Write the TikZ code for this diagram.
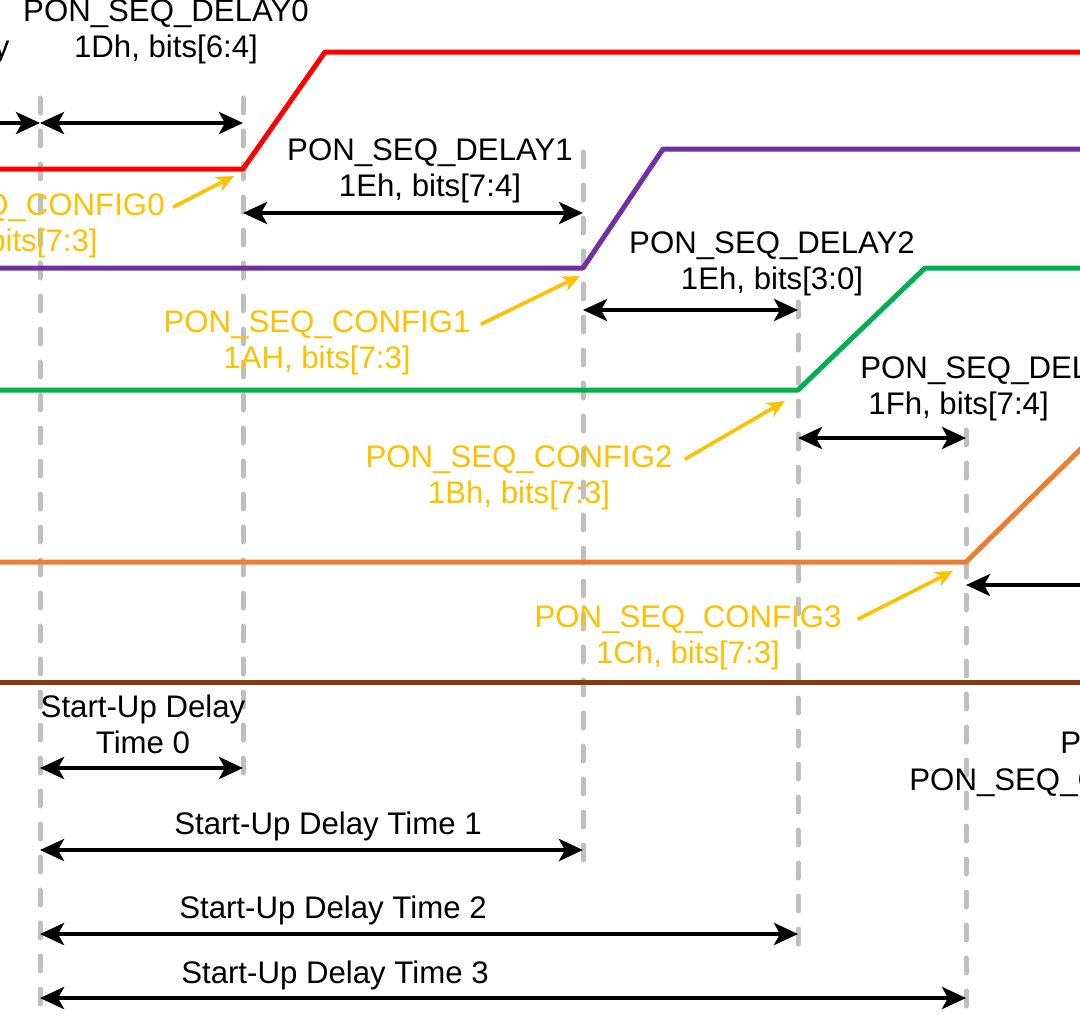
\documentclass[tikz,border=0pt]{standalone}
\usepackage{fontspec}
\setmainfont{Liberation Sans}
\usetikzlibrary{arrows.meta, positioning, calc}
\definecolor{seqred}{RGB}{255, 0, 0}
\definecolor{seqpurple}{RGB}{112, 48, 160}
\definecolor{seqgreen}{RGB}{0, 176, 80}
\definecolor{seqorange}{RGB}{237, 125, 49}
\definecolor{seqbrown}{RGB}{132, 60, 12}
\definecolor{cfgyellow}{RGB}{255, 192, 0}
\definecolor{guidegray}{RGB}{191, 191, 191}

\begin{document}
\begin{tikzpicture}[
  x=0.5pt, y=-0.5pt,
  lbl/.style={inner sep=0pt, font=\fontsize{15.6}{18}\selectfont},
  cfg/.style={lbl, text=cfgyellow},
  rail/.style={line width=2.5pt, line join=round},
  guide/.style={draw=guidegray, line width=2.5pt, line cap=round, dash pattern=on 7.5pt off 9pt},
  span/.style={<->, >={Stealth[length=12pt, width=11pt, inset=3pt]}, line width=2.2pt},
  callout/.style={->, >={Stealth[length=9pt, width=8pt]}, draw=cfgyellow, line width=1.8pt},
]
  \useasboundingbox (0,0) rectangle (1080,1024);
  \clip (0,0) rectangle (1080,1024);

  % time marks
  \coordinate (m0) at (40,0);
  \coordinate (m1) at (243,0);
  \coordinate (m2) at (583,0);
  \coordinate (m3) at (798,0);
  \coordinate (m4) at (966,0);

  \draw[guide] (m0 |- 0,98) -- (m0 |- 0,1012);
  \draw[guide] (m1 |- 0,98) -- (m1 |- 0,780);
  \draw[guide] (m2 |- 0,152) -- (m2 |- 0,868);
  \draw[guide] (m3 |- 0,302) -- (m3 |- 0,952);
  \draw[guide] (m4 |- 0,430) -- (m4 |- 0,1012);

  % rails
  \draw[rail, seqred] (-20,169) -- (m1 |- 0,169) -- (325,52) -- (1100,52);
  \draw[rail, seqpurple] (-20,268) -- (m2 |- 0,268) -- (663,149) -- (1100,149);
  \draw[rail, seqgreen] (-20,390) -- (m3 |- 0,390) -- (925,268) -- (1100,268);
  \draw[rail, seqorange] (-20,562) -- (m4 |- 0,562) -- (1100,430);
  \draw[rail, seqbrown] (-20,682) -- (1100,682);

  % delays between rails
  \draw[span] (-120,123) -- (m0 |- 0,123);
  \draw[span] (m0 |- 0,123) -- (m1 |- 0,123);
  \draw[span] (m1 |- 0,213) -- (m2 |- 0,213);
  \draw[span] (m2 |- 0,310) -- (m3 |- 0,310);
  \draw[span] (m3 |- 0,438) -- (m4 |- 0,438);
  \draw[span] (m4 |- 0,585) -- (1200,585);

  \node[lbl, anchor=base east] (dlyprev) at (10,57) {Delay};
  \node[lbl, anchor=base] (dly0) at (166,21) {PON\_SEQ\_DELAY0};
  \node[lbl, anchor=base] (dly0b) at ([yshift=-18pt]dly0.base) {1Dh, bits[6:4]};
  \node[lbl, anchor=base] (dly1) at (430,160) {PON\_SEQ\_DELAY1};
  \node[lbl, anchor=base] (dly1b) at ([yshift=-18pt]dly1.base) {1Eh, bits[7:4]};
  \node[lbl, anchor=base] (dly2) at (772,253) {PON\_SEQ\_DELAY2};
  \node[lbl, anchor=base] (dly2b) at ([yshift=-18pt]dly2.base) {1Eh, bits[3:0]};
  \node[lbl, anchor=base west] (dly3) at (860,378) {PON\_SEQ\_DELAY3};
  \node[lbl, anchor=base west] (dly3b) at (868,414) {1Fh, bits[7:4]};

  % configs
  \node[cfg, anchor=base east] (cfg0) at (165,215) {PON\_SEQ\_CONFIG0};
  \node[cfg, anchor=base east] (cfg0b) at (98,251) {19h, bits[7:3]};
  \node[cfg, anchor=base] (cfg1) at (317,332) {PON\_SEQ\_CONFIG1};
  \node[cfg, anchor=base] (cfg1b) at ([yshift=-18pt]cfg1.base) {1AH, bits[7:3]};
  \node[cfg, anchor=base] (cfg2) at (519,467) {PON\_SEQ\_CONFIG2};
  \node[cfg, anchor=base] (cfg2b) at ([yshift=-18pt]cfg2.base) {1Bh, bits[7:3]};
  \node[cfg, anchor=base] (cfg3) at (688,627) {PON\_SEQ\_CONFIG3};
  \node[cfg, anchor=base] (cfg3b) at ([yshift=-18pt]cfg3.base) {1Ch, bits[7:3]};

  \coordinate (tip0) at (234,176);
  \coordinate (tip1) at (580,276);
  \coordinate (tip2) at (785,401);
  \coordinate (tip3) at (953,571);
  \draw[callout] ([xshift=4pt]cfg0.east) -- (tip0);
  \draw[callout] ([xshift=5pt]cfg1.east) -- (tip1);
  \draw[callout] ([xshift=6pt]cfg2.east) -- (tip2);
  \draw[callout] ([xshift=8pt]cfg3.east) -- (tip3);

  % start-up delay times
  \node[lbl, anchor=base] (sud0) at (143,717) {Start-Up Delay};
  \node[lbl, anchor=base] (sud0b) at ([yshift=-18pt]sud0.base) {Time 0};
  \node[lbl, anchor=base] (sud1) at (328,834) {Start-Up Delay Time 1};
  \node[lbl, anchor=base] (sud2) at (333,918) {Start-Up Delay Time 2};
  \node[lbl, anchor=base] (sud3) at (335,983) {Start-Up Delay Time 3};
  \node[lbl, anchor=base west] (pdn) at (1060,753) {PON};
  \node[lbl, anchor=base west] (pdnb) at (909,790) {PON\_SEQ\_CONFIG4};

  \draw[span] (m0 |- 0,768) -- (m1 |- 0,768);
  \draw[span] (m0 |- 0,850) -- (m2 |- 0,850);
  \draw[span] (m0 |- 0,934) -- (m3 |- 0,934);
  \draw[span] (m0 |- 0,998) -- (m4 |- 0,998);
\end{tikzpicture}
\end{document}
